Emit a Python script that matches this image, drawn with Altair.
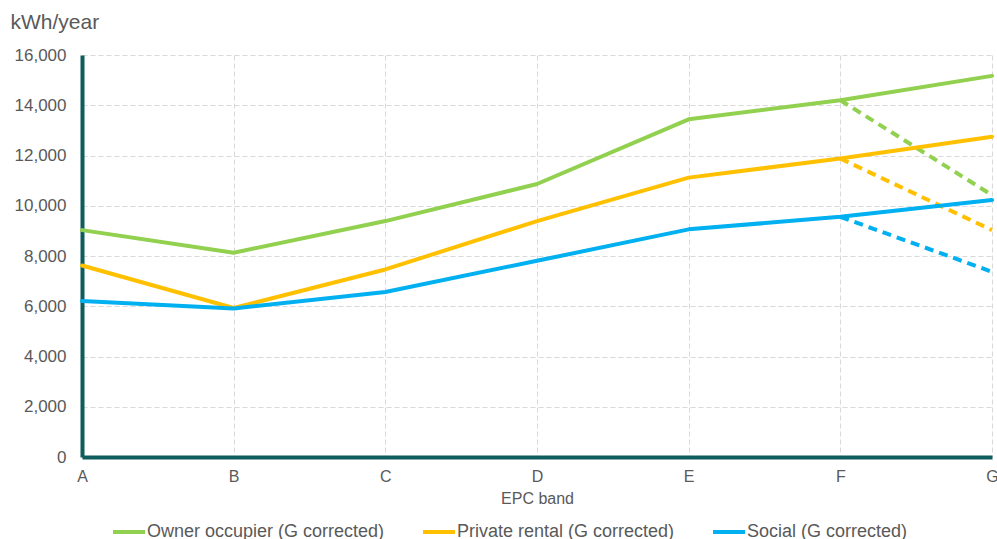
import altair as alt
import pandas as pd

bands = ["A", "B", "C", "D", "E", "F", "G"]
series_names = [
    "Owner occupier (G corrected)",
    "Private rental (G corrected)",
    "Social (G corrected)",
]
owner = [9030, 8130, 9390, 10865, 13440, 14200, 15170]
private = [7620, 5930, 7465, 9390, 11120, 11880, 12750]
social = [6210, 5910, 6570, 7810, 9060, 9560, 10230]
# G band before correction (dashed F -> G segments)
uncorrected_g = [10425, 9030, 7370]
colours = ["#92D050", "#FFC000", "#00B0F0"]
y_ticks = [0, 2000, 4000, 6000, 8000, 10000, 12000, 14000, 16000]

rows = []
for name, vals in zip(series_names, [owner, private, social]):
    for b, v in zip(bands, vals):
        rows.append({"band": b, "value": v, "series": name})
solid_df = pd.DataFrame(rows)

drows = []
for name, vals, g in zip(series_names, [owner, private, social], uncorrected_g):
    drows.append({"band": "F", "value": vals[5], "series": name})
    drows.append({"band": "G", "value": g, "series": name})
dashed_df = pd.DataFrame(drows)

FONT = "Liberation Sans"
TXT = "#595959"
TEAL = "#0E5C5E"

x_enc = alt.X(
    "band:N",
    scale=alt.Scale(type="point", padding=0, domain=bands),
    axis=alt.Axis(
        title="EPC band",
        labelAngle=0,
        labelPadding=11,
        titlePadding=6,
        labelFontSize=16,
        titleFontSize=16,
    ),
)
y_enc = alt.Y(
    "value:Q",
    scale=alt.Scale(domain=[0, 16000], nice=False),
    axis=alt.Axis(
        values=y_ticks,
        format=",.0f",
        title="kWh/year",
        titleAngle=0,
        titleAlign="left",
        titleBaseline="alphabetic",
        titleX=-72,
        titleY=-27,
        titleFontSize=21,
        labelFontSize=17,
        labelPadding=16,
    ),
)

solid = alt.Chart(solid_df).mark_line(strokeWidth=4, strokeCap="round", strokeJoin="round").encode(
    x=x_enc,
    y=y_enc,
    color=alt.Color(
        "series:N",
        scale=alt.Scale(domain=series_names, range=colours),
        sort=series_names,
        legend=alt.Legend(
            title=None,
            orient="none",
            legendX=29,
            legendY=459,
            direction="horizontal",
            symbolType="stroke",
            symbolStrokeWidth=4,
            symbolSize=1024,
            labelFontSize=18,
            labelOffset=0,
            labelLimit=400,
            columnPadding=30,
            labelFont=FONT,
            labelColor=TXT,
        ),
    ),
)

dashed = alt.Chart(dashed_df).mark_line(strokeWidth=4, strokeDash=[9, 6]).encode(
    x=x_enc,
    y=y_enc,
    color=alt.Color("series:N", scale=alt.Scale(domain=series_names, range=colours), legend=None),
)

chart = (
    alt.layer(dashed, solid)
    .resolve_scale(color="independent")
    .properties(
        width=910,
        height=402,
        autosize=alt.AutoSizeParams(type="none"),
        padding={"left": 82, "top": 55, "right": 5, "bottom": 82},
    )
    .configure_view(strokeWidth=0)
    .configure_legend(symbolStrokeWidth=4)
    .configure_axis(
        domainColor=TEAL,
        domainWidth=4,
        ticks=False,
        grid=True,
        gridColor="#D9D9D9",
        gridDash=[5, 3],
        gridWidth=1,
        labelFont=FONT,
        titleFont=FONT,
        labelColor=TXT,
        titleColor=TXT,
        titleFontWeight="normal",
    )
)

chart.save("out.html", embed_options={"renderer": "svg", "actions": False})
